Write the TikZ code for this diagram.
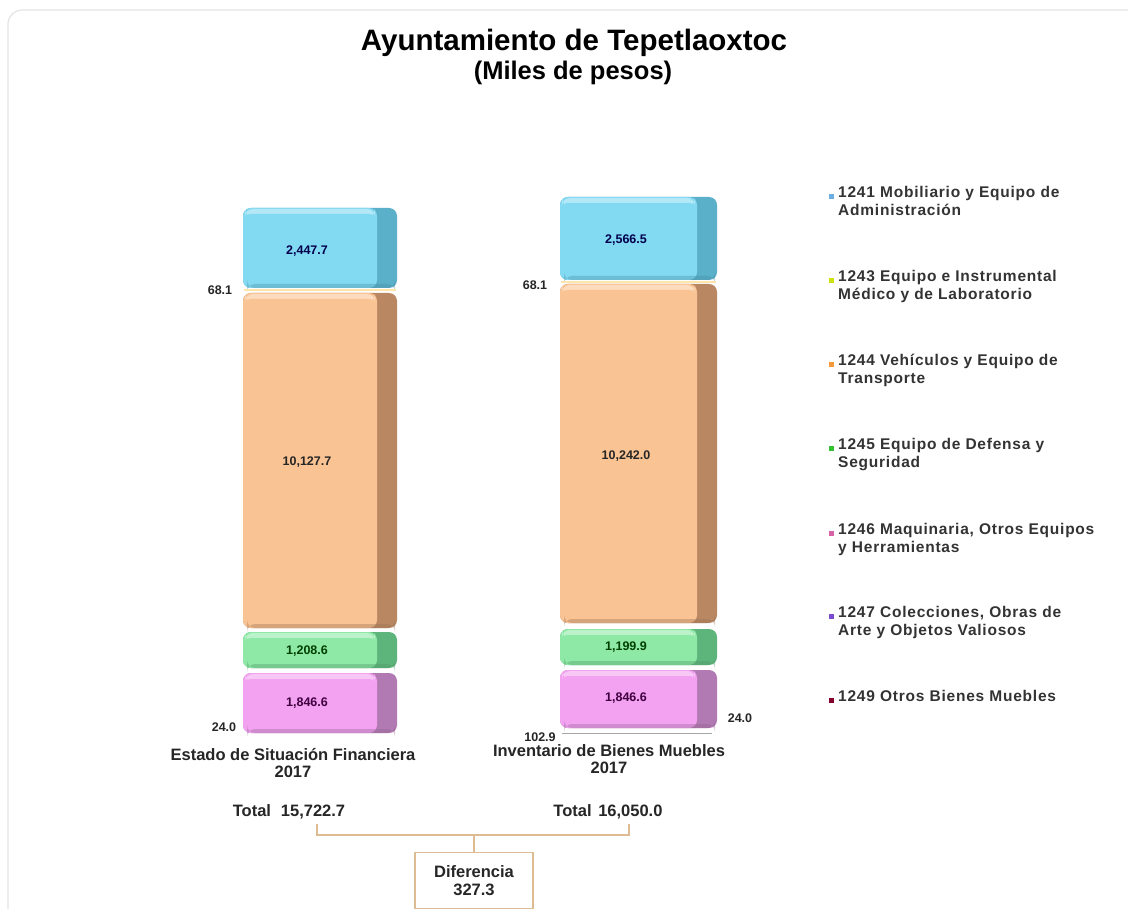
\documentclass[tikz,border=0pt]{standalone}
\usepackage{fontspec}
\setmainfont{Liberation Sans}
\newfontfamily\legfont[LetterSpace=5]{Liberation Sans}
\begin{document}
\begin{tikzpicture}[x=1pt,y=-1pt,
  val/.style={font=\bfseries\fontsize{12.5}{14}\selectfont, inner sep=1pt},
  small/.style={font=\bfseries\fontsize{12.5}{14}\selectfont, text=black!85, inner sep=1pt},
  cat/.style={font=\bfseries\fontsize{16.5}{17.5}\selectfont, text=black!85, align=center, inner sep=1pt},
  leg/.style={font=\legfont\bfseries\fontsize{15.5}{18}\selectfont, text=black!80, align=left, anchor=north west, inner sep=0pt},
  legmark/.style={minimum size=6pt, inner sep=0pt, draw=white, line width=0.6pt},
  brk/.style={draw=brk, line width=1.2pt},
]
\definecolor{cyanF}{HTML}{82D9F2}\definecolor{cyanS}{HTML}{5AAFC9}
\definecolor{oraF}{HTML}{FAC393}\definecolor{oraS}{HTML}{B98863}
\definecolor{grnF}{HTML}{8EE9A6}\definecolor{grnS}{HTML}{5EB57C}
\definecolor{pnkF}{HTML}{F2A2F0}\definecolor{pnkS}{HTML}{B27AB2}
\definecolor{brk}{HTML}{DDBB93}
\definecolor{frame}{HTML}{E4E4E4}
\useasboundingbox (0,0) rectangle (1128,909);
\fill[white] (0,0) rectangle (1128,909);
\draw[frame, line width=1.2pt, rounded corners=14pt] (8,10) rectangle (1150,930);

% title
\node[inner sep=0pt] (title) at (574,43) {\bfseries\fontsize{29.5}{32}\selectfont Ayuntamiento de Tepetlaoxtoc};
\node[inner sep=0pt] (sub) at (573,73) {\bfseries\fontsize{25.5}{30}\selectfont (Miles de pesos)};

% bar drawing macro
\newcommand\mybar[6]{%
  \fill[#6, rounded corners=8pt] (#1,#2) rectangle (#3,#4);
  \fill[#5, rounded corners=8pt] (#1,#2) rectangle (#3-20,#4);
  \fill[#5!60!white, rounded corners=8pt] (#1+2,#2+1) rectangle (#3-22,#2+9);
  \fill[#5, rounded corners=4pt] (#1+3,#2+6) rectangle (#3-23,#4-6);
  \fill[#6!80!black, opacity=0.35, rounded corners=8pt] (#1+4,#4-4) rectangle (#3-2,#4);
}

% left bar
\mybar{243}{208}{397}{288}{cyanF}{cyanS}
\fill[yellow!40!orange!30] (244,289.5) rectangle (396,291);
\mybar{243}{293}{397}{628}{oraF}{oraS}
\mybar{243}{632}{397}{668}{grnF}{grnS}
\mybar{243}{673}{397}{733}{pnkF}{pnkS}

% right bar
\mybar{560}{197}{717}{280}{cyanF}{cyanS}
\fill[yellow!40!orange!30] (561,281.5) rectangle (716,283);
\mybar{560}{284}{717}{623}{oraF}{oraS}
\mybar{560}{629}{717}{665}{grnF}{grnS}
\mybar{560}{670}{717}{728}{pnkF}{pnkS}
\draw[gray!70, line width=1pt] (562,733) -- (712,733);

% values
\node[val, text=blue!30!black] (l1) at (307,251) {2,447.7};
\node[val, text=black!85] (l2) at (307,462) {10,127.7};
\node[val, text=green!25!black] (l3) at (307,651) {1,208.6};
\node[val, text=violet!50!black] (l4) at (307,703) {1,846.6};
\node[small] (l5) at (220,290) {68.1};
\node[small] (l6) at (224,727) {24.0};

\node[val, text=blue!30!black] (r1) at (626,240) {2,566.5};
\node[val, text=black!85] (r2) at (626,456) {10,242.0};
\node[val, text=green!25!black] (r3) at (626,647) {1,199.9};
\node[val, text=violet!50!black] (r4) at (626,698) {1,846.6};
\node[small] (r5) at (535,285) {68.1};
\node[small] (r6) at (540,737) {102.9};
\node[small] (r7) at (740,718) {24.0};

% categories
\node[cat] (c1) at (293,763) {Estado de Situación Financiera\\2017};
\node[cat] (c2) at (609,759) {Inventario de Bienes Muebles\\2017};

% totals
\node[cat] (t1) at (289,812) {Total\hspace{0.6em}15,722.7};
\node[cat] (t2) at (608,812) {Total\hspace{0.4em}16,050.0};

\node[cat, draw=brk, line width=1.2pt, minimum width=118pt, minimum height=56pt, anchor=north] (dif) at (474,852) {Diferencia\\327.3};
\coordinate (b1) at (317,824);
\coordinate (b2) at (629,824);
\draw[brk] (b1) -- (317,835) -- (629,835) -- (b2);
\draw[brk] (474,835) -- (dif.north);

% legend
\node[legmark, fill=cyan!70!blue!60] (m1) at (831,196) {};
\node[leg] (g1) at (838,186) {1241 Mobiliario y Equipo de\\Administración};
\node[legmark, fill=yellow!80!green] (m2) at (831,280) {};
\node[leg] (g2) at (838,270) {1243 Equipo e Instrumental\\Médico y de Laboratorio};
\node[legmark, fill=orange!80!brown!80] (m3) at (831,364) {};
\node[leg] (g3) at (838,354) {1244 Vehículos y Equipo de\\Transporte};
\node[legmark, fill=green!70!black!80] (m4) at (831,448) {};
\node[leg] (g4) at (838,438) {1245 Equipo de Defensa y\\Seguridad};
\node[legmark, fill=magenta!60!violet!70] (m5) at (831,533) {};
\node[leg] (g5) at (838,523) {1246 Maquinaria, Otros Equipos\\y Herramientas};
\node[legmark, fill=blue!50!violet!70] (m6) at (831,616) {};
\node[leg] (g6) at (838,606) {1247 Colecciones, Obras de\\Arte y Objetos Valiosos};
\node[legmark, fill=purple!70!black] (m7) at (831,700) {};
\node[leg] (g7) at (838,690) {1249 Otros Bienes Muebles};
\end{tikzpicture}
\end{document}
